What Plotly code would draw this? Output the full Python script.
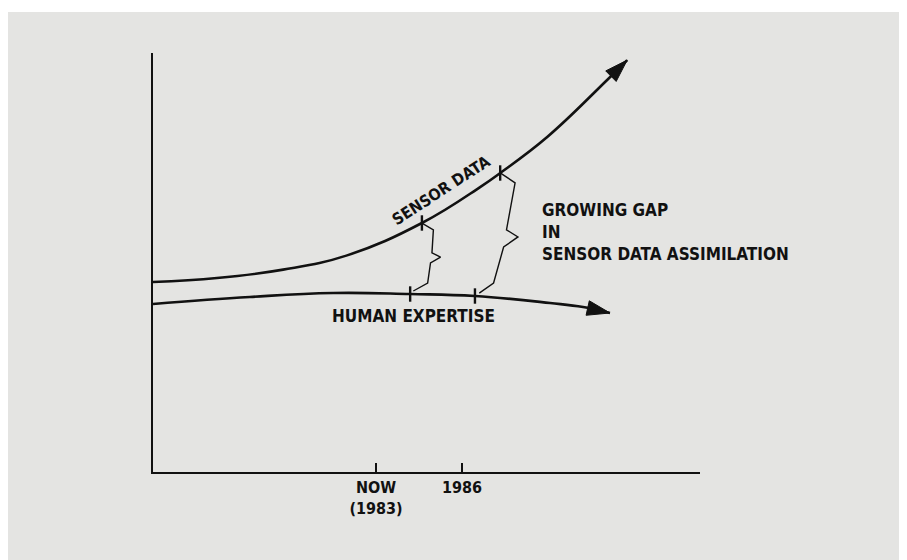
import plotly.graph_objects as go

# ---- data (x in years, y in arbitrary "level" units 0-100) ----
sensor_x = [1975.22, 1977.45, 1979.76, 1981.99, 1984.6, 1986.63, 1987.33, 1988.97, 1991.06, 1991.76]
sensor_y = [45.35, 46.3, 48.3, 51.7, 59.43, 68.0, 71.36, 79.95, 93.56, 98.3]

human_x = [1975.22, 1978.6, 1981.5, 1984.19, 1986.45, 1989.07, 1990.22, 1991.16]
human_y = [40.1, 41.77, 42.72, 42.48, 42.0, 40.33, 39.38, 37.95]

# tick marks on the curves
sensor_ticks_x = [1984.6, 1987.33]
sensor_ticks_y = [59.43, 71.36]
human_ticks_x = [1984.19, 1986.45]
human_ticks_y = [42.48, 42.0]

# zig-zag braces joining the curves
brace1_x = [1984.6, 1985.0, 1984.95, 1985.25, 1984.9, 1984.8, 1984.3]
brace1_y = [59.4, 57.8, 52.3, 51.3, 49.9, 45.1, 43.2]
brace2_x = [1987.33, 1987.85, 1987.55, 1987.95, 1987.45, 1987.1, 1986.6]
brace2_y = [71.4, 69.0, 57.8, 56.1, 53.7, 45.1, 42.7]

tick_vals = [1983, 1986]
tick_text = ["<b>NOW</b><br><b>(1983)</b>", "<b>1986</b>"]

x_range = [1975.22, 1994.3]
y_range = [0, 100]

FONT = "DejaVu Sans Condensed, Liberation Sans Narrow, sans-serif"
INK = "#111111"
BG = "#e4e4e2"

fig = go.Figure()

fig.add_trace(go.Scatter(x=sensor_x, y=sensor_y, mode="lines",
                         line=dict(color=INK, width=2.6, shape="spline", smoothing=1.2), hoverinfo="skip"))
fig.add_trace(go.Scatter(x=human_x, y=human_y, mode="lines",
                         line=dict(color=INK, width=2.6, shape="spline", smoothing=1.2), hoverinfo="skip"))

# arrowheads at the end of each curve
for xs, ys in [(sensor_x, sensor_y), (human_x, human_y)]:
    fig.add_trace(go.Scatter(x=xs[-2:], y=ys[-2:], mode="markers", opacity=1,
                             marker=dict(symbol="arrow", size=[0, 24], color=INK, opacity=1,
                                         angleref="previous", line=dict(width=1, color=INK)),
                             hoverinfo="skip"))

fig.add_trace(go.Scatter(x=brace1_x, y=brace1_y, mode="lines", line=dict(color=INK, width=1.4), hoverinfo="skip"))
fig.add_trace(go.Scatter(x=brace2_x, y=brace2_y, mode="lines", line=dict(color=INK, width=1.4), hoverinfo="skip"))

fig.add_trace(go.Scatter(x=sensor_ticks_x + human_ticks_x, y=sensor_ticks_y + human_ticks_y, mode="markers",
                         marker=dict(symbol="line-ns-open", size=11, color=INK, line=dict(color=INK, width=2.4)),
                         hoverinfo="skip"))

fig.add_annotation(x=1985.27, y=67.1, text="<b>SENSOR DATA</b>", showarrow=False, textangle=-33,
                   font=dict(family=FONT, size=16, color=INK))
fig.add_annotation(x=1984.29, y=37.2, text="<b>HUMAN EXPERTISE</b>", showarrow=False,
                   font=dict(family=FONT, size=17, color=INK))
fig.add_annotation(x=1988.72, y=57.3, text="<b>GROWING GAP<br>IN<br>SENSOR DATA ASSIMILATION</b>",
                   showarrow=False, xanchor="left", align="left",
                   font=dict(family=FONT, size=17, color=INK))

fig.update_xaxes(range=x_range, showgrid=False, zeroline=False, showline=True, linecolor=INK, linewidth=2,
                 tickmode="array", tickvals=tick_vals, ticktext=tick_text, ticks="inside", ticklen=9,
                 tickcolor=INK, tickwidth=2, tickfont=dict(family=FONT, size=16, color=INK))
fig.update_yaxes(range=y_range, showgrid=False, zeroline=False, showline=True, linecolor=INK, linewidth=2,
                 showticklabels=False)

# the page body adds an 8px offset, so margins are measured from there
W, H = 907, 560
L, R, T, B = 145, 215, 45, 96
pw, ph = W - L - R, H - T - B
fig.add_shape(type="rect", xref="paper", yref="paper", layer="below", line=dict(width=0), fillcolor=BG,
              x0=-L / pw, x1=(W - L) / pw, y0=-B / ph, y1=(T - 4) / ph + 1)

fig.update_layout(width=W, height=H, margin=dict(l=L, r=R, t=T, b=B), paper_bgcolor="white",
                  plot_bgcolor="rgba(0,0,0,0)", showlegend=False)

fig.write_html("out.html")
